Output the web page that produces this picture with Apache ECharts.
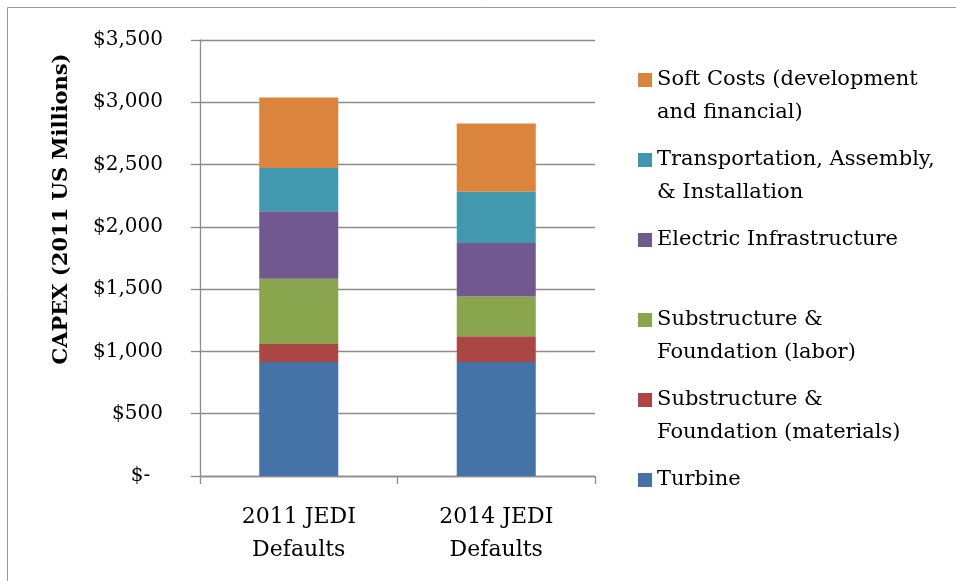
<!DOCTYPE html>
<html>
<head>
<meta charset="utf-8">
<script src="https://cdn.jsdelivr.net/npm/echarts@6/dist/echarts.min.js"></script>
<style>
  html, body { margin: 0; padding: 0; background: #fff; }
  #chart { width: 956px; height: 581px; }
</style>
</head>
<body>
<div id="chart"></div>
<script>
// categories and values (2011 US $ millions)
const categories = ['2011 JEDI\nDefaults', '2014 JEDI\nDefaults']
const turbine = [916, 916]
const subMaterials = [144, 206]
const subLabor = [524, 318]
const electric = [542, 430]
const transport = [347, 411]
const softCosts = [566, 548]

const seriesNames = [
  'Turbine',
  'Substructure & Foundation (materials)',
  'Substructure & Foundation (labor)',
  'Electric Infrastructure',
  'Transportation, Assembly, & Installation',
  'Soft Costs (development and financial)'
]
// wrapped legend text
const legendLabels = {
  'Soft Costs (development and financial)': 'Soft Costs (development\nand financial)',
  'Transportation, Assembly, & Installation': 'Transportation, Assembly,\n& Installation',
  'Electric Infrastructure': 'Electric Infrastructure',
  'Substructure & Foundation (labor)': 'Substructure &\nFoundation (labor)',
  'Substructure & Foundation (materials)': 'Substructure &\nFoundation (materials)',
  'Turbine': 'Turbine'
}
const seriesData = [turbine, subMaterials, subLabor, electric, transport, softCosts]
const colors = ['#4572A7', '#AA4643', '#89A54E', '#71588F', '#4198AF', '#DB843D']

const font = 'DejaVu Serif'
const gridColor = '#8c8c8c'

// one legend per item; a blank first line keeps the square level with the first text line
const legendOrder = seriesNames.slice().reverse()
const legends = legendOrder.map((name, i) => {
  const center = 80 + i * 80
  const twoLine = legendLabels[name].indexOf('\n') >= 0
  return {
    data: [name],
    left: 638,
    top: twoLine ? center - 49.5 : center - 16.5,
    padding: 0,
    icon: 'rect',
    itemWidth: 14,
    itemHeight: 14,
    selectedMode: false,
    formatter: n => (twoLine ? '\n' : '') + legendLabels[n],
    textStyle: {
      fontFamily: font,
      fontSize: 21,
      color: '#000',
      lineHeight: 33
    }
  }
})

const myChart = echarts.init(document.getElementById('chart'))
const option = {
  animation: false,
  color: colors,
  grid: { left: 200, right: 361, top: 40, bottom: 105 },
  legend: legends,
  graphic: [
    {
      type: 'rect',
      shape: { x: 7.5, y: 7.5, width: 1000, height: 1000 },
      style: { fill: 'none', stroke: '#9a9a9a', lineWidth: 1 },
      silent: true
    },
    {
      type: 'text',
      x: 62,
      y: 209,
      rotation: Math.PI / 2,
      style: {
        text: 'CAPEX (2011 US Millions)',
        font: 'bold 21px "DejaVu Serif"',
        fill: '#000',
        align: 'center',
        verticalAlign: 'middle'
      }
    }
  ],
  xAxis: {
    type: 'category',
    data: categories,
    axisLine: { show: true, lineStyle: { color: gridColor, width: 1.3 } },
    axisTick: { show: true, length: 8, lineStyle: { color: gridColor, width: 1.3 } },
    axisLabel: {
      margin: 25,
      fontFamily: font,
      fontSize: 22,
      color: '#000',
      lineHeight: 33
    }
  },
  yAxis: {
    type: 'value',
    min: 0,
    max: 3500,
    interval: 500,
    axisLine: { show: true, lineStyle: { color: gridColor, width: 1.3 } },
    axisTick: { show: true, inside: false, length: 9, lineStyle: { color: gridColor, width: 1.3 } },
    splitLine: { show: true, lineStyle: { color: gridColor, width: 1.3 } },
    axisLabel: {
      margin: 37,
      fontFamily: font,
      fontSize: 20,
      color: '#000',
      formatter: v => v === 0 ? '$-  ' : '$' + v.toLocaleString('en-US')
    }
  },
  series: seriesNames.map((name, i) => ({
    name: name,
    type: 'bar',
    stack: 'capex',
    barWidth: 79,
    data: seriesData[i]
  }))
}
myChart.setOption(option)
</script>
</body>
</html>
